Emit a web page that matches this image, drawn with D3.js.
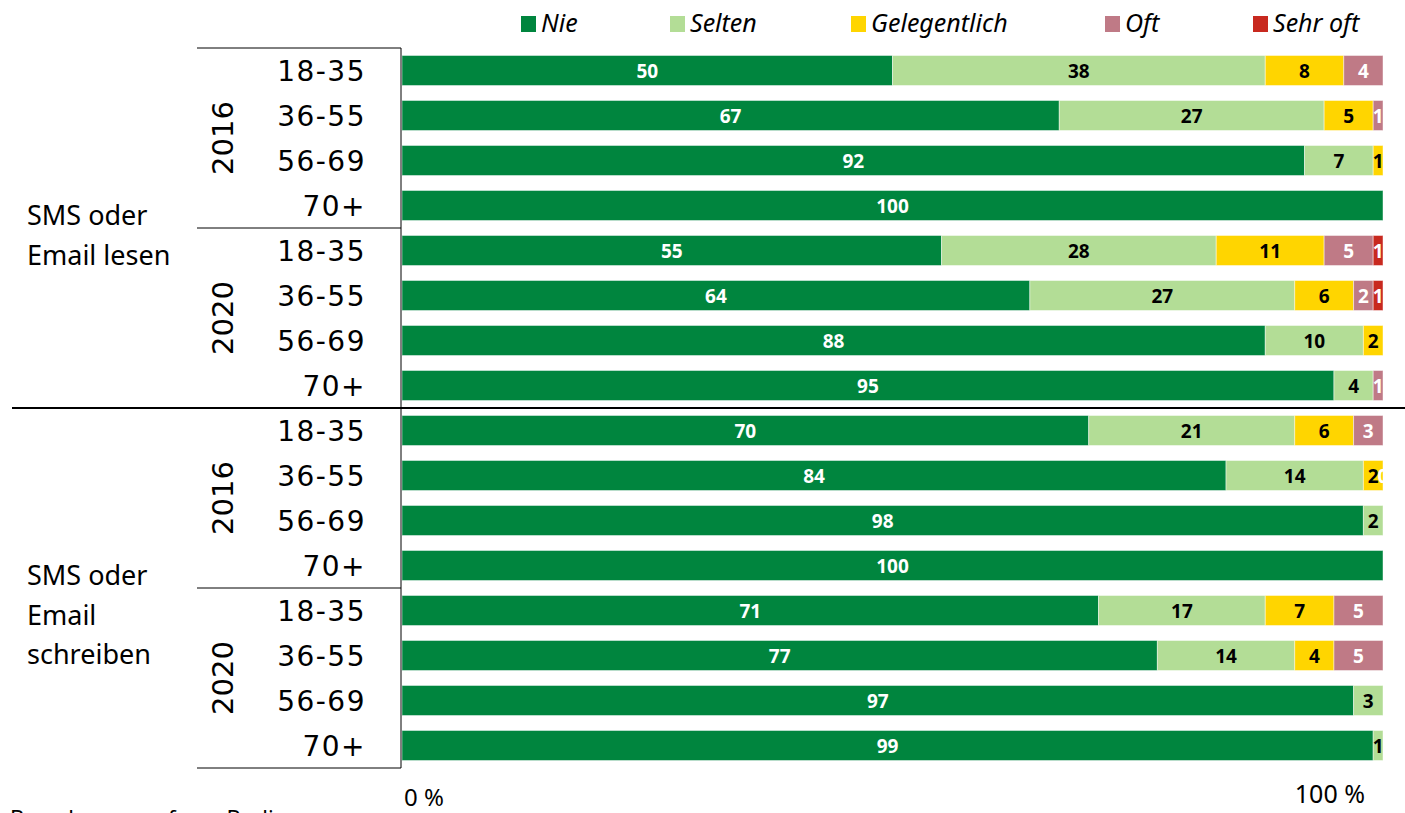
<!DOCTYPE html>
<html>
<head>
<meta charset="utf-8">
<script src="https://cdn.jsdelivr.net/npm/d3@7"></script>
<style>
  body { margin: 0; background: #fff; }
  svg { display: block; }
</style>
</head>
<body>
<div id="chart"></div>
<script>
var width = 1405,
    height = 813;

// data
const activities = [["SMS oder", "Email lesen"], ["SMS oder", "Email", "schreiben"]];
const years = ["2016", "2020"];
const ages = ["18-35", "36-55", "56-69", "70+"];
const seriesNames = ["Nie", "Selten", "Gelegentlich", "Oft", "Sehr oft"];
const seriesColors = ["#00853e", "#b3dd96", "#ffd500", "#bf7a86", "#c8291f"];
const labelColors = ["#fff", "#000", "#000", "#fff", "#fff"];

// 16 rows: activity x year x age (null = no segment)
const nie          = [50, 67, 92, 100, 55, 64, 88, 95, 70, 84, 98, 100, 71, 77, 97, 99];
const selten       = [38, 27, 7, null, 28, 27, 10, 4, 21, 14, 2, null, 17, 14, 3, 1];
const gelegentlich = [8, 5, 1, null, 11, 6, 2, null, 6, 2, null, null, 7, 4, null, null];
const oft          = [4, 1, null, null, 5, 2, null, 1, 3, 0, null, null, 5, 5, null, null];
const sehrOft      = [null, null, null, null, 1, 1, null, null, null, null, null, null, null, null, null, null];
const seriesValues = [nie, selten, gelegentlich, oft, sehrOft];

const tickLabels = ["0 %", "100 %"];

const rows = d3.range(16);

const x = d3.scaleLinear().domain([0, 100]).range([402, 1383]);
const y = d3.scaleBand().domain(rows).range([48, 768])
    .paddingInner(1 / 3).paddingOuter(1 / 6);

const svg = d3.select("#chart").append("svg")
    .attr("width", width)
    .attr("height", height);

// stacked segments
const segments = [];
rows.forEach(function (r) {
    let start = 0;
    seriesValues.forEach(function (vals, s) {
        const v = vals[r];
        if (v === null) return;
        segments.push({ row: r, s: s, x0: start, x1: start + v, v: v });
        start += v;
    });
});

svg.append("g").selectAll("rect")
    .data(segments.filter(d => d.v > 0))
    .join("rect")
    .attr("x", d => x(d.x0))
    .attr("y", d => y(d.row))
    .attr("width", d => x(d.x1) - x(d.x0))
    .attr("height", y.bandwidth())
    .attr("fill", d => seriesColors[d.s])
    .attr("stroke", "rgba(255,255,255,0.45)")
    .attr("stroke-width", 1);

svg.append("g").selectAll("text")
    .data(segments)
    .join("text")
    .attr("x", d => x((d.x0 + d.x1) / 2))
    .attr("y", d => y(d.row) + y.bandwidth() / 2 + 7)
    .attr("text-anchor", "middle")
    .attr("font-family", "Noto Sans")
    .attr("font-weight", "bold")
    .attr("font-size", "19px")
    .attr("fill", d => labelColors[d.s])
    .text(d => d.v);

// table lines on the left
const lines = svg.append("g").attr("stroke", "#000").attr("fill", "none");
const rowTop = i => i >= 16 ? 768 : y(i) - y.step() * y.paddingInner() / 2;
lines.append("line").attr("x1", 401).attr("x2", 401).attr("y1", 48).attr("y2", 768);
[0, 4, 12, 16].forEach(function (i) {
    const yy = i === 0 ? 48 : rowTop(i);
    lines.append("line").attr("x1", 197).attr("x2", 401)
        .attr("y1", yy).attr("y2", yy);
});
lines.append("line")
    .attr("x1", 12).attr("x2", 1405)
    .attr("y1", rowTop(8))
    .attr("y2", rowTop(8))
    .attr("stroke-width", 2);

// age labels
svg.append("g").selectAll("text")
    .data(rows)
    .join("text")
    .attr("x", 366)
    .attr("y", r => y(r) + y.bandwidth() / 2 + 10.5)
    .attr("text-anchor", "end")
    .attr("font-family", "DejaVu Sans")
    .attr("font-size", "28px")
    .attr("letter-spacing", "1.5px")
    .attr("fill", "#000")
    .text(r => ages[r % 4]);

// year labels (rotated)
d3.range(4).forEach(function (b) {
    const cy = (y(b * 4) + y(b * 4 + 3) + y.bandwidth()) / 2;
    svg.append("text")
        .attr("transform", "translate(233," + cy + ") rotate(-90)")
        .attr("text-anchor", "middle")
        .attr("font-family", "DejaVu Sans")
        .attr("font-size", "29px")
        .attr("fill", "#000")
        .text(years[b % 2]);
});

// activity labels
const actBase = [225, 585];
activities.forEach(function (lns, i) {
    const t = svg.append("text")
        .attr("font-family", "Noto Sans")
        .attr("font-size", "27px")
        .attr("fill", "#000");
    lns.forEach(function (l, j) {
        t.append("tspan").attr("x", 27).attr("y", actBase[i] + j * 39.5).text(l);
    });
});

// legend
const legendX = [521, 670, 851, 1105, 1253];
const legend = svg.append("g").selectAll("g")
    .data(seriesNames)
    .join("g")
    .attr("transform", (d, i) => "translate(" + legendX[i] + ",0)");
legend.append("rect")
    .attr("x", 0).attr("y", 16)
    .attr("width", 15).attr("height", 16)
    .attr("fill", (d, i) => seriesColors[i]);
legend.append("text")
    .attr("x", 20).attr("y", 32)
    .attr("font-family", "Noto Sans")
    .attr("font-style", "italic")
    .attr("font-size", "25px")
    .attr("fill", "#000")
    .text(d => d);

// axis labels
svg.append("text")
    .attr("x", x(0) + 2).attr("y", 806)
    .attr("font-family", "Noto Sans")
    .attr("font-size", "24px")
    .text(tickLabels[0]);
svg.append("text")
    .attr("x", x(100) - 18).attr("y", 803)
    .attr("text-anchor", "end")
    .attr("font-family", "Noto Sans")
    .attr("font-size", "25px")
    .text(tickLabels[1]);

// source note (cut off at the bottom, as in the original)
svg.append("text")
    .attr("x", 10).attr("y", 826)
    .attr("font-family", "Noto Sans")
    .attr("font-size", "22px")
    .text("Berechnungen forsa Berlin");
</script>
</body>
</html>
